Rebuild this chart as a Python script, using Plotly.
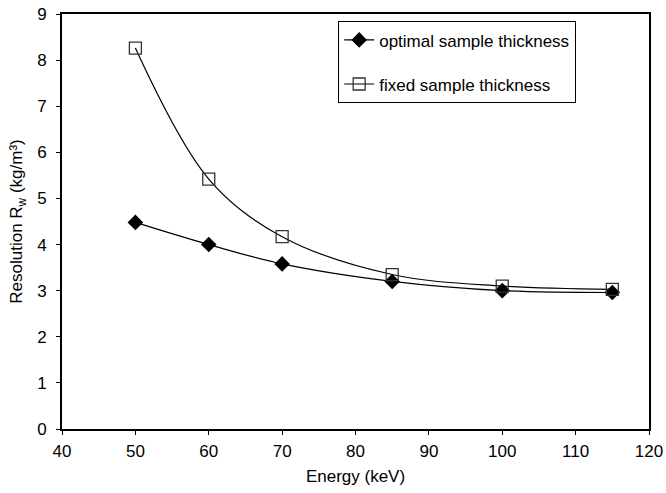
import plotly.graph_objects as go

energy = [50, 60, 70, 85, 100, 115]
optimal = [4.48, 4.0, 3.58, 3.2, 3.0, 2.96]
fixed = [8.26, 5.42, 4.17, 3.35, 3.1, 3.03]
series_names = ["optimal sample thickness", "fixed sample thickness"]

FONT = "Liberation Sans, Arial, sans-serif"

fig = go.Figure()
fig.add_trace(go.Scatter(
    x=energy, y=optimal, name=series_names[0], mode="lines+markers",
    legendgroup="a",
    line=dict(color="black", width=1.2, shape="spline", smoothing=1.0),
    marker=dict(symbol="diamond", size=12, color="black"),
))
fig.add_trace(go.Scatter(
    x=energy, y=fixed, name=series_names[1], mode="lines+markers",
    legendgroup="b",
    line=dict(color="black", width=1.2, shape="spline", smoothing=1.0),
    marker=dict(symbol="square-open", size=12, color="#333333", line=dict(width=1.3)),
))

fig.update_layout(
    width=666, height=493,
    margin=dict(l=62, r=17, t=14, b=64),
    paper_bgcolor="white", plot_bgcolor="white",
    font=dict(family=FONT, size=17, color="black"),
    showlegend=True,
    legend=dict(
        x=0.47, y=0.983, xanchor="left", yanchor="top",
        bordercolor="black", borderwidth=1.3, bgcolor="white",
        font=dict(family=FONT, size=17, color="black"),
        tracegroupgap=19, itemwidth=30,
    ),
    xaxis=dict(
        range=[40, 120], dtick=10, showgrid=False, zeroline=False,
        showline=True, linecolor="black", linewidth=2, mirror=True,
        ticks="outside", ticklen=4, tickcolor="black", tickwidth=1.3,
        tickfont=dict(family=FONT, size=17), ticklabelstandoff=2,
        ticklabeloverflow="allow", automargin=False,
        title=dict(text="Energy (keV)", standoff=10, font=dict(family=FONT, size=17)),
    ),
    yaxis=dict(
        range=[0, 9], dtick=1, showgrid=False, zeroline=False,
        showline=True, linecolor="black", linewidth=2, mirror=True,
        ticks="outside", ticklen=4, tickcolor="black", tickwidth=1.3,
        tickfont=dict(family=FONT, size=17), ticklabelstandoff=6,
        ticklabeloverflow="allow", automargin=False,
        title=dict(text="Resolution R<sub>w</sub> (kg/m³)", standoff=10, font=dict(family=FONT, size=17)),
    ),
)

fig.write_html(
    "out.html",
    config={"displayModeBar": False},
    post_script="document.body.style.margin='0';document.body.style.overflow='hidden';",
)
